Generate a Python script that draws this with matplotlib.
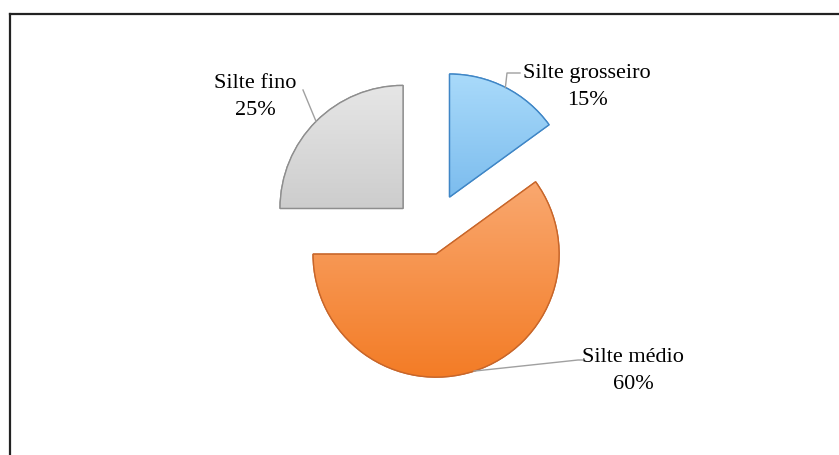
import numpy as np
import matplotlib
matplotlib.use("Agg")
import matplotlib.pyplot as plt
from matplotlib.lines import Line2D
from matplotlib.patches import Wedge
from matplotlib.colors import LinearSegmentedColormap

# dados
categorias = ["Silte grosseiro", "Silte médio", "Silte fino"]
valores = [15, 60, 25]
cores_claras = ["#a9dafa", "#fbb382", "#e6e6e6"]
cores_escuras = ["#4f9fe2", "#f37c26", "#b4b4b4"]
bordas = ["#3f86c6", "#c8662a", "#8e8e8e"]
explode = [0.35, 0.16, 0.31]

plt.rcParams["font.family"] = ["Liberation Serif", "DejaVu Serif"]

W, H = 839, 455
escala = 123.0           # pixels por unidade de raio
cx_px, cy_px = 430, 235.4


def px(x, y):
    # pixel da imagem -> coordenada de dados
    return (x - cx_px) / escala, (cy_px - y) / escala


fig = plt.figure(figsize=(W / 100, H / 100), dpi=100)
ax = fig.add_axes([0, 0, 1, 1])

wedges, _ = ax.pie(valores, colors=cores_escuras, explode=explode, startangle=90,
                   counterclock=False, radius=1.0,
                   wedgeprops=dict(linewidth=1.0))
ax.axis("off")

# gradiente vertical dentro de cada fatia
grad = np.linspace(0, 1, 256).reshape(-1, 1)
for w, c1, c2, b in zip(wedges, cores_claras, cores_escuras, bordas):
    w.set_edgecolor(b)
    cm = LinearSegmentedColormap.from_list("g", [c1, c2])
    x0, y0 = w.center
    img = ax.imshow(grad, cmap=cm, origin="upper", aspect="auto",
                    extent=[x0 - w.r, x0 + w.r, y0 - w.r, y0 + w.r],
                    zorder=w.get_zorder() + 0.1, interpolation="bilinear")
    img.set_clip_path(w)
    ax.add_patch(Wedge(w.center, w.r, w.theta1, w.theta2, facecolor="none",
                       edgecolor=b, linewidth=1.0, zorder=w.get_zorder() + 0.2))

ax.set_xlim(-cx_px / escala, (W - cx_px) / escala)
ax.set_ylim(-(H - cy_px) / escala, cy_px / escala)
ax.set_aspect("auto")

# rótulos com linhas de chamada
pos_texto = [px(587, 87), px(633, 371), px(255, 97)]
cotovelos = [[px(507, 73), px(520, 73)],
             [px(578, 360), px(583, 360)],
             [px(303, 90), px(303, 90)]]

for w, nome, v, pt, cot in zip(wedges, categorias, valores, pos_texto, cotovelos):
    meio = np.deg2rad((w.theta1 + w.theta2) / 2)
    ancora = (w.center[0] + w.r * np.cos(meio), w.center[1] + w.r * np.sin(meio))
    xs = [ancora[0]] + [c[0] for c in cot]
    ys = [ancora[1]] + [c[1] for c in cot]
    ax.plot(xs, ys, color="#a0a0a0", linewidth=1.0, zorder=5)
    ax.text(pt[0], pt[1], f"{nome}\n{v}%", ha="center", va="center",
            fontsize=16, linespacing=1.55, color="#000000", zorder=6)

# moldura
fig.add_artist(Line2D([10 / W, 1], [1 - 14 / H, 1 - 14 / H], color="#222222", linewidth=1.6))
fig.add_artist(Line2D([10 / W, 10 / W], [0, 1 - 14 / H], color="#222222", linewidth=1.6))

fig.savefig("out.png", dpi=100, facecolor="white")
